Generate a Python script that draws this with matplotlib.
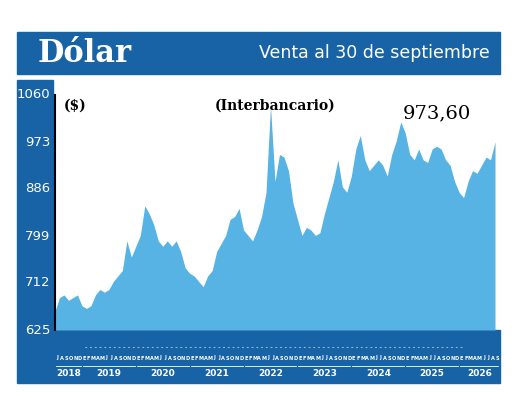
import numpy as np
import matplotlib.pyplot as plt
from matplotlib.patches import Rectangle

# monthly values, Jul 2018 .. Sep 2026
values = [
    660, 685, 690, 680, 685, 690,
    670, 665, 670, 690, 700, 695, 700, 715, 725, 735, 790, 760,
    780, 800, 855, 840, 820, 790, 780, 790, 780, 790, 770, 740,
    730, 725, 715, 705, 725, 735, 770, 785, 800, 830, 835, 850,
    810, 800, 790, 810, 835, 880, 1040, 900, 950, 945, 920, 860,
    830, 800, 815, 810, 800, 805, 840, 870, 900, 940, 890, 880,
    910, 960, 985, 940, 920, 930, 940, 930, 910, 950, 975, 1010,
    990, 950, 940, 960, 940, 935, 960, 965, 960, 940, 930, 900,
    880, 870, 900, 920, 915, 930, 945, 940, 973.6,
]
yticks = [625, 712, 799, 886, 973, 1060]
months = ["J", "A", "S", "O", "N", "D"] + ["E", "F", "M", "A", "M", "J", "J", "A", "S", "O", "N", "D"] * 7 + ["E", "F", "M", "A", "M", "J", "J", "A", "S"]
years = ["2018", "2019", "2020", "2021", "2022", "2023", "2024", "2025", "2026"]

dark = "#1763a6"
light = "#56b3e4"
W, H = 520, 409
narrow = ["Liberation Sans Narrow", "DejaVu Sans"]

fig = plt.figure(figsize=(5.2, 4.09), dpi=100)


def box(x0, y0, x1, y1, color):
    fig.patches.append(Rectangle((x0 / W, 1 - y1 / H), (x1 - x0) / W, (y1 - y0) / H,
                                 transform=fig.transFigure, color=color, zorder=0))


def ftext(x, y, s, **kw):
    fig.text(x / W, 1 - y / H, s, zorder=5, **kw)


box(17, 32, 500, 74, dark)
box(17, 80, 53, 383, dark)
box(53, 330, 500, 383, dark)
ftext(38, 53, "Dólar", color="white", fontsize=22, fontweight="bold",
      family="DejaVu Serif", va="center")
ftext(490, 53, "Venta al 30 de septiembre", color="white", fontsize=12.5,
      family=narrow, va="center", ha="right")

n = len(values)
x = np.arange(n)
ax = fig.add_axes([55 / W, 1 - 330 / H, 440 / W, 235 / H])
ax.set_zorder(2)
ax.patch.set_alpha(0)
ax.fill_between(x, 625, values, color=light, lw=0)
ax.set_xlim(0, n - 1)
ax.set_ylim(625, 1060)
ax.set_xticks([])
ax.set_yticks([])
for s in ["top", "right", "bottom"]:
    ax.spines[s].set_visible(False)
ax.spines["left"].set_linewidth(1.5)

for v in yticks:
    ypix = 330 - (v - 625) / 435 * 235
    ftext(50, ypix, str(v), ha="right", va="center", color="white", fontsize=9.5,
          family=narrow)

ax.text(0.02, 0.985, "($)", transform=ax.transAxes, fontsize=10, fontweight="bold",
        family="DejaVu Serif", va="top")
ax.text(0.5, 0.985, "(Interbancario)", transform=ax.transAxes, fontsize=10,
        fontweight="bold", family="DejaVu Serif", va="top", ha="center")
ax.text(0.945, 0.96, "973,60", transform=ax.transAxes, fontsize=14,
        family="DejaVu Serif", va="top", ha="right")

# bottom band: months and years
px0, px1 = 55, 495
step = (px1 - px0) / (n - 1)
for i, m in enumerate(months):
    ftext(px0 + i * step + step / 2, 358, m, color="white", fontsize=3.6, ha="center",
          va="center", fontweight="bold")
ftext((px0 + px1) / 2, 347, "- " * 80, color="white", fontsize=5, ha="center", va="center")
starts = [0, 6, 18, 30, 42, 54, 66, 78, 90]
for j, yr in enumerate(years):
    a = starts[j]
    b = starts[j + 1] if j + 1 < len(starts) else n
    xa, xb = px0 + a * step + 1, px0 + b * step - 1
    fig.add_artist(plt.Line2D([xa / W, xb / W], [1 - 366 / H] * 2, color="white", lw=0.6))
    ftext((xa + xb) / 2, 374, yr, color="white", fontsize=6.5, fontweight="bold",
          ha="center", va="center")

fig.savefig("out.png", dpi=100)
